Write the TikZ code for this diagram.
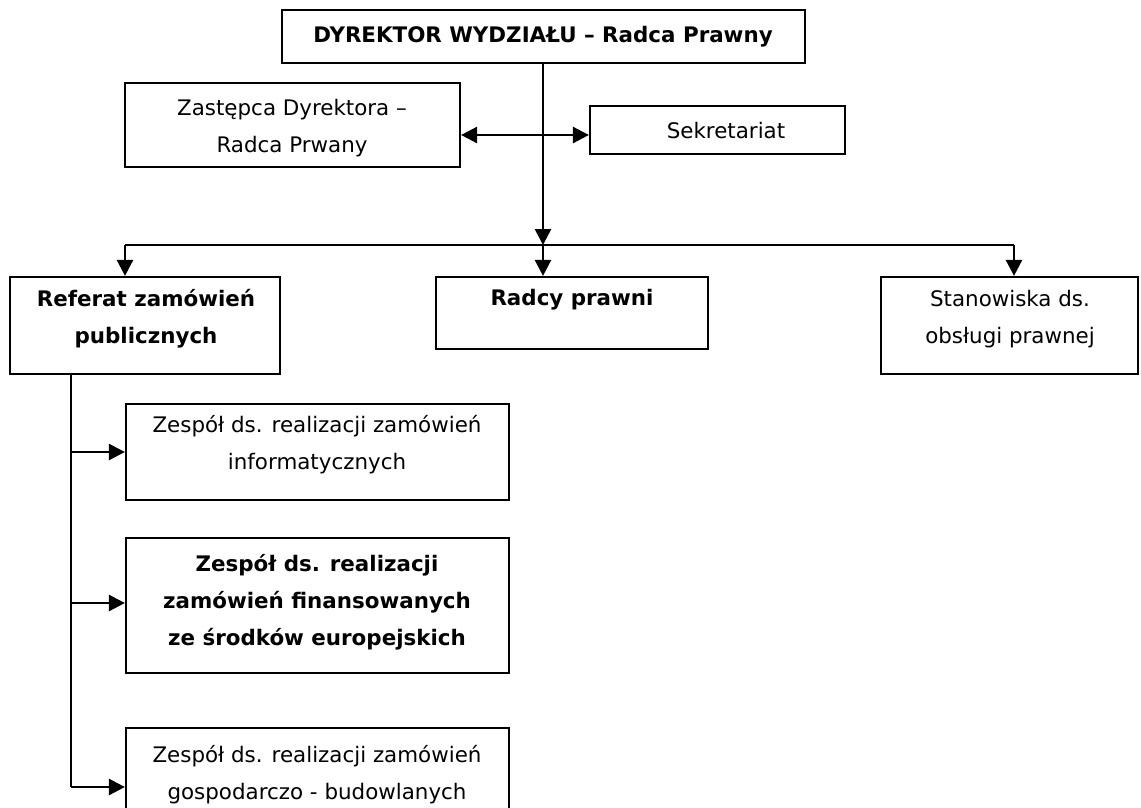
\documentclass[tikz,border=0pt]{standalone}
\usepackage{fontspec}
\setmainfont{DejaVu Sans}
\usetikzlibrary{arrows.meta}
\begin{document}
\begin{tikzpicture}[x=1pt,y=-1pt,
  box/.style={draw, line width=2.2pt, rectangle, inner sep=0pt},
  lbl/.style={font=\fontsize{21.4}{37}\selectfont, align=center, inner sep=0pt},
  conn/.style={line width=2.6pt},
  arr/.style={conn, -{Triangle[length=16pt,width=16pt]}},
  dbl/.style={conn, {Triangle[length=16pt,width=16pt]}-{Triangle[length=16pt,width=16pt]}},
]
\useasboundingbox (0,0) rectangle (1141,807);
% boxes
\node[box, minimum width=523pt, minimum height=53pt] (dir) at (543.5,36.5) {};
\node[box, minimum width=335pt, minimum height=84pt] (zast) at (292.5,125) {};
\node[box, minimum width=255pt, minimum height=48pt] (sek) at (717.5,130) {};
\node[box, minimum width=270pt, minimum height=97pt] (ref) at (145,325.5) {};
\node[box, minimum width=272pt, minimum height=72pt] (rad) at (572,313) {};
\node[box, minimum width=257pt, minimum height=97pt] (sta) at (1009.5,325.5) {};
\node[box, minimum width=383pt, minimum height=96pt] (z1) at (317.5,452) {};
\node[box, minimum width=383pt, minimum height=135pt] (z2) at (317.5,605.5) {};
\node[box, minimum width=383pt, minimum height=122pt] (z3) at (317.5,789) {};
% texts
\node[lbl] (dirT) at (543,37) {\bfseries DYREKTOR WYDZIAŁU – Radca Prawny};
\node[lbl] (zastT) at (292,128) {Zastępca Dyrektora –\\Radca Prwany};
\node[lbl] (sekT) at (726,131) {Sekretariat};
\node[lbl] (refT) at (146,319) {\bfseries Referat zamówień\\\bfseries publicznych};
\node[lbl] (radT) at (572,300) {\bfseries Radcy prawni};
\node[lbl] (staT) at (1010,319) {Stanowiska ds.\\obsługi prawnej};
\node[lbl] (z1T) at (317,445) {Zespół ds. realizacji zamówień\\informatycznych};
\node[lbl] (z2T) at (317,602) {\bfseries Zespół ds. realizacji\\\bfseries zamówień finansowanych\\\bfseries ze środków europejskich};
\node[lbl] (z3T) at (317,775) {Zespół ds. realizacji zamówień\\gospodarczo - budowlanych};
% connectors
\coordinate (hub) at (543,245);
\coordinate (mid) at (543,135);
\coordinate (lft) at (125,245);
\coordinate (rgt) at (1014,245);
\coordinate (a1) at (71,452);
\coordinate (a2) at (71,603);
\coordinate (a3) at (71,787);
\draw[arr] (dir.south -| hub) -- (hub);
\draw[dbl] (zast.east |- mid) -- (sek.west |- mid);
\draw[conn] (lft) -- (rgt);
\draw[arr] (lft) -- (lft |- ref.north);
\draw[arr] (hub) -- (hub |- rad.north);
\draw[arr] (rgt) -- (rgt |- sta.north);
\draw[conn] (ref.south -| a1) -- (a3);
\draw[arr] (a1) -- (a1 -| z1.west);
\draw[arr] (a2) -- (a2 -| z2.west);
\draw[arr] (a3) -- (a3 -| z3.west);
\end{tikzpicture}
\end{document}
